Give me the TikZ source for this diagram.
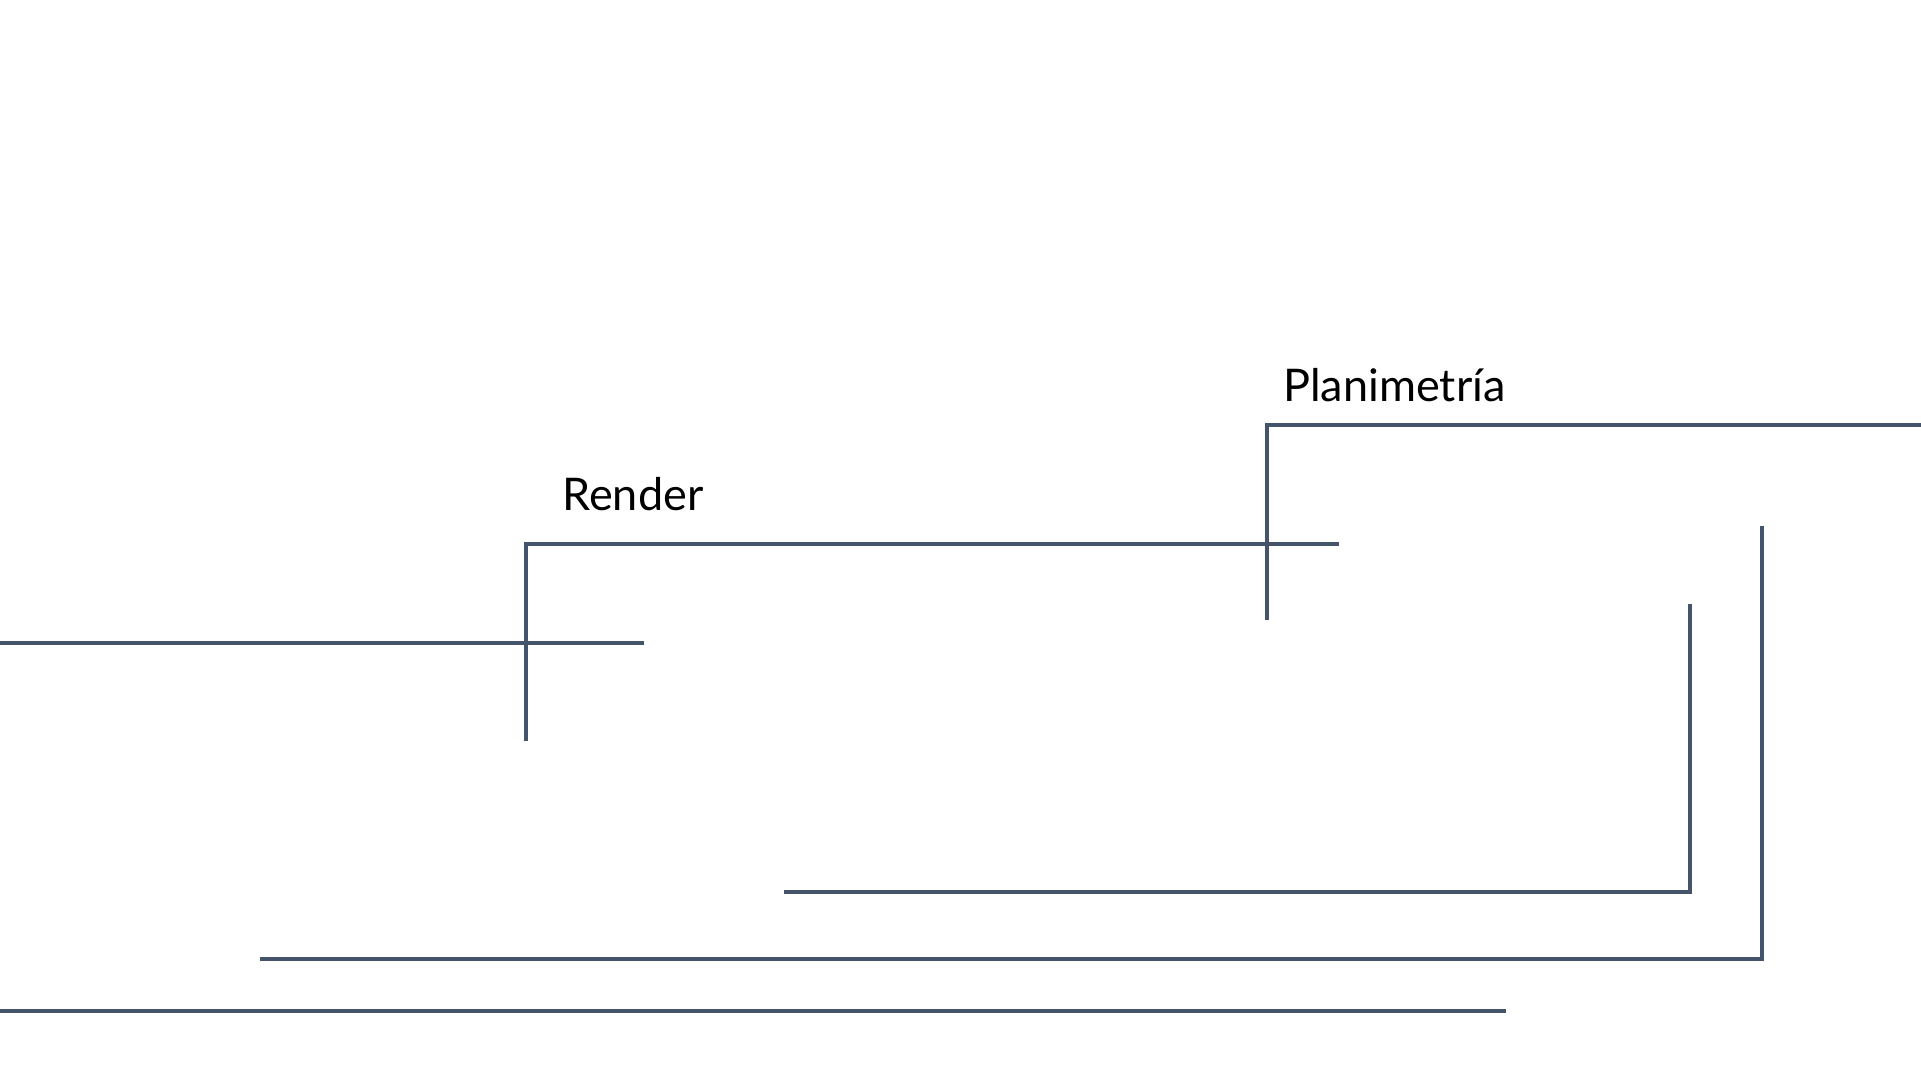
\documentclass[tikz,border=0pt]{standalone}
\usepackage{fontspec}
\setmainfont{Lato}
\definecolor{linec}{HTML}{44546A}
\begin{document}
\begin{tikzpicture}[x=0.5pt,y=-0.5pt,
  conn/.style={draw=linec,line width=2pt},
  lbl/.style={anchor=base west,inner sep=0pt,font=\fontsize{22.5}{27}\selectfont}]
\useasboundingbox (0,0) rectangle (1921,1081);
\node[lbl] (plan) at (1283,401) {Planimetría};
\node[lbl] (rend) at (562,510) {Render};
% Planimetria bracket
\coordinate (p1) at (1267,425);
\coordinate (p2) at (1921,425);
\coordinate (p3) at (1267,620);
\draw[conn] (p2) -- (p1) -- (p3);
% Render bracket
\coordinate (r1) at (526,544);
\coordinate (r2) at (1339,544);
\coordinate (r3) at (526,741);
\draw[conn] (r2) -- (r1) -- (r3);
% left line
\coordinate (l1) at (0,643);
\coordinate (l2) at (644,643);
\draw[conn] (l1) -- (l2);
% lower brackets
\coordinate (a1) at (1690,604);
\coordinate (a2) at (1690,892);
\coordinate (a3) at (784,892);
\draw[conn] (a1) -- (a2) -- (a3);
\coordinate (b1) at (1762,526);
\coordinate (b2) at (1762,959);
\coordinate (b3) at (260,959);
\draw[conn] (b1) -- (b2) -- (b3);
\coordinate (c1) at (0,1011);
\coordinate (c2) at (1506,1011);
\draw[conn] (c1) -- (c2);
\end{tikzpicture}
\end{document}
